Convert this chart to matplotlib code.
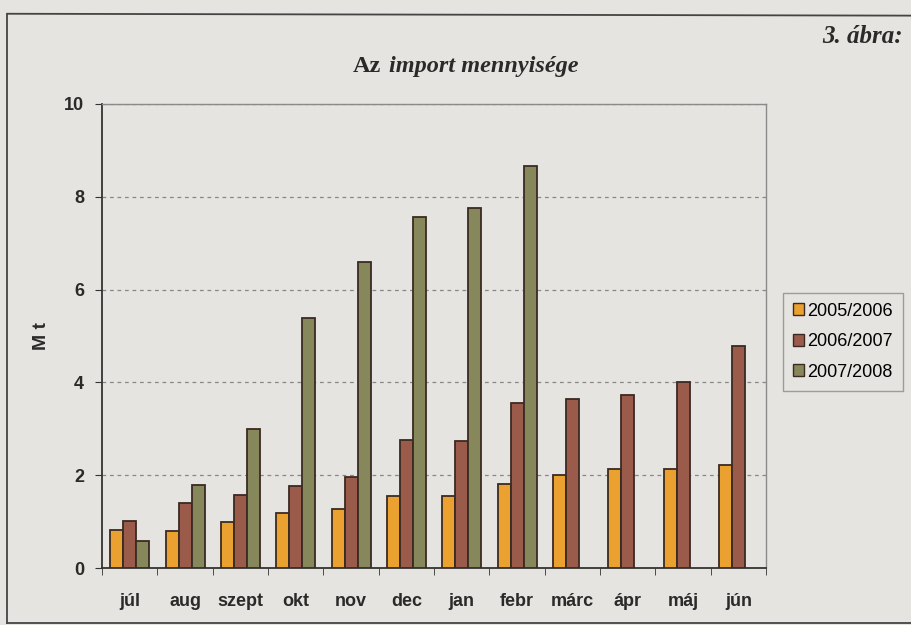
import matplotlib.pyplot as plt
import numpy as np
from matplotlib.lines import Line2D

months = ['júl', 'aug', 'szept', 'okt', 'nov', 'dec', 'jan', 'febr', 'márc', 'ápr', 'máj', 'jún']
seasons = ['2005/2006', '2006/2007', '2007/2008']
s2005 = [0.82, 0.80, 0.99, 1.18, 1.27, 1.55, 1.55, 1.81, 2.00, 2.13, 2.13, 2.22]
s2006 = [1.01, 1.40, 1.57, 1.77, 1.96, 2.76, 2.74, 3.56, 3.64, 3.73, 4.01, 4.78]
s2007 = [0.58, 1.79, 3.00, 5.39, 6.60, 7.56, 7.76, 8.66]
colors = ['#EBA12F', '#9A5B4A', '#86875A']

bg = '#E6E4E0'
ink = '#2a2a2a'
fig = plt.figure(figsize=(9.11, 6.25), dpi=100, facecolor=bg)
ax = fig.add_axes([0.112, 0.091, 0.729, 0.743], facecolor=bg)

x = np.arange(len(months))
w = 0.235
for i, vals in enumerate([s2005, s2006, s2007]):
    xs = x[:len(vals)] + (i - 1) * w
    ax.bar(xs, vals, width=w, color=colors[i], edgecolor='#3a2a22',
           linewidth=1.3, label=seasons[i], zorder=3)

ax.set_xlim(-0.5, len(months) - 0.5)
ax.set_ylim(0, 10)
ax.set_yticks([0, 2, 4, 6, 8, 10])
ax.set_xticks(x)
ax.set_xticklabels(months, fontsize=13, fontweight='bold', color=ink,
                   family='Liberation Sans')
ax.set_yticklabels(['0', '2', '4', '6', '8', '10'], fontsize=13, fontweight='bold',
                   color=ink, family='Liberation Sans')
ax.set_xticks(np.arange(len(months) + 1) - 0.5, minor=True)
ax.tick_params(axis='x', which='major', length=0, pad=18)
ax.tick_params(axis='x', which='minor', length=5, direction='out', color='#333333')
ax.tick_params(axis='y', length=5, direction='out', color='#333333', pad=8)

ax.yaxis.grid(True, linestyle=(0, (3, 3)), color='#888888', linewidth=0.9, zorder=0)
for s in ['left', 'bottom']:
    ax.spines[s].set_color('#333333')
    ax.spines[s].set_linewidth(1.3)
for s in ['top', 'right']:
    ax.spines[s].set_color('#8a8a8a')
    ax.spines[s].set_linewidth(1.0)

ax.set_ylabel('M t', fontsize=14, fontweight='bold', color=ink,
              family='Liberation Sans', labelpad=10)

leg = ax.legend(loc='upper left', bbox_to_anchor=(1.025, 0.593), frameon=True,
                fancybox=False, edgecolor='#8a8a8a', facecolor=bg,
                prop={'family': 'Liberation Sans', 'size': 13},
                handlelength=0.65, handleheight=0.65, handletextpad=0.15,
                labelspacing=0.75, borderpad=0.55, borderaxespad=0)
leg.get_frame().set_linewidth(1.0)
for h in leg.legend_handles:
    h.set_edgecolor('#3a2a22')
    h.set_linewidth(1.0)

serif = ['Liberation Serif', 'DejaVu Serif']
fig.text(0.418, 0.885, 'Az', fontsize=17.5, fontweight='bold', family=serif,
         ha='right', va='baseline', color=ink)
fig.text(0.427, 0.885, 'import mennyisége', fontsize=17.5, fontweight='bold',
         style='italic', family=serif, ha='left', va='baseline', color=ink)
fig.text(0.991, 0.941, '3. ábra:', fontsize=18, fontweight='bold', style='italic',
         family=serif, ha='right', va='center', color=ink)

# outer frame of the figure
fig.add_artist(Line2D([0.008, 0.008], [0.003, 0.978], transform=fig.transFigure,
                      color='#444444', linewidth=1.3))
fig.add_artist(Line2D([0.008, 1.0], [0.978, 0.975], transform=fig.transFigure,
                      color='#444444', linewidth=1.3))
fig.add_artist(Line2D([0.008, 1.0], [0.004, 0.004], transform=fig.transFigure,
                      color='#444444', linewidth=1.3))

fig.savefig('out.png', dpi=100, facecolor=bg)
